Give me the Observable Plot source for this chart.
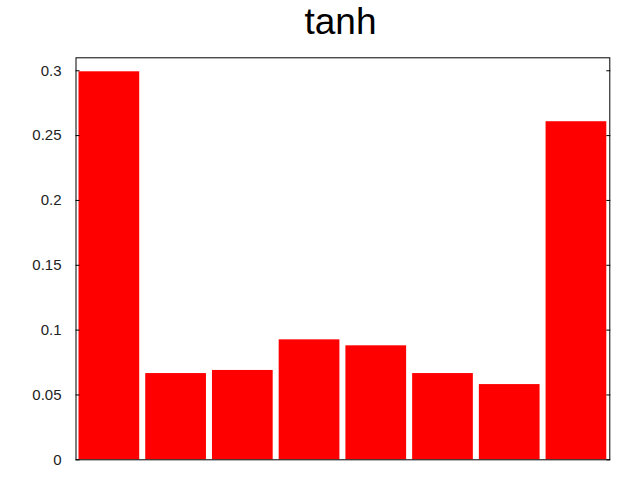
<!DOCTYPE html>
<html>
<head>
<meta charset="utf-8">
<script src="https://cdn.jsdelivr.net/npm/d3@7"></script>
<script src="https://cdn.jsdelivr.net/npm/@observablehq/plot@0.6"></script>
<style>
  html, body { margin: 0; padding: 0; background: #fff; }
</style>
</head>
<body>
<div id="chart"></div>
<script>
const title = "tanh";
const bins = [0, 1, 2, 3, 4, 5, 6, 7];
const values = [0.2992, 0.0665, 0.0689, 0.0925, 0.0879, 0.0665, 0.0580, 0.2607];
const yTicks = [0, 0.05, 0.1, 0.15, 0.2, 0.25, 0.3];
const yTickLabels = ["0", "0.05", "0.1", "0.15", "0.2", "0.25", "0.3"];

const data = bins.map((b, i) => ({bin: b, value: values[i]}));
const boxWidth = 0.91;

const chart = Plot.plot({
  width: 640,
  height: 480,
  marginLeft: 75.5,
  marginRight: 30.7,
  marginTop: 57.3,
  marginBottom: 20.7,
  style: {fontFamily: "'Liberation Sans', Arial, sans-serif", fontSize: "15px", color: "#000", background: "#fff"},
  x: {domain: [-0.5, 7.5], axis: null},
  y: {domain: [0, 0.31]},
  marks: [
    Plot.rectY(data, {x1: d => d.bin - boxWidth / 2, x2: d => d.bin + boxWidth / 2, y1: 0, y2: "value", fill: "#ff0000"}),
    Plot.axisY(yTicks, {anchor: "left", label: null, tickSize: -4, tickPadding: 18.5, tickFormat: (d, i) => yTickLabels[i], fill: "#222", fontSize: 15}),
    Plot.axisY(yTicks, {anchor: "right", label: null, tickSize: -4, text: null}),
    Plot.frame({stroke: "#000", strokeWidth: 1}),
    Plot.text([title], {frameAnchor: "top", dx: -2.4, dy: -24.3, lineAnchor: "bottom", fontSize: 37, fill: "#000"})
  ]
});
document.getElementById("chart").appendChild(chart);
</script>
</body>
</html>
